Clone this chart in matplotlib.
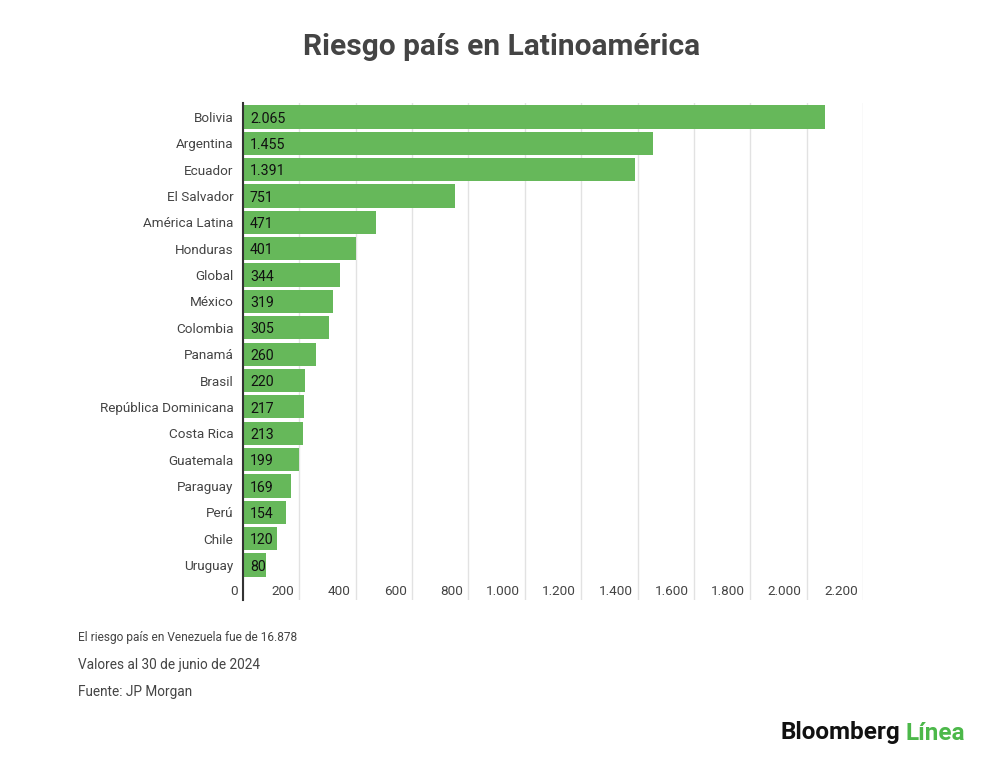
import matplotlib
matplotlib.use("Agg")
import matplotlib.pyplot as plt
import matplotlib.transforms as mtransforms
from matplotlib.ticker import FuncFormatter

plt.rcParams['font.family'] = ['Roboto', 'DejaVu Sans']

paises = ['Bolivia', 'Argentina', 'Ecuador', 'El Salvador', 'América Latina',
          'Honduras', 'Global', 'México', 'Colombia', 'Panamá', 'Brasil',
          'República Dominicana', 'Costa Rica', 'Guatemala', 'Paraguay',
          'Perú', 'Chile', 'Uruguay']
riesgo = [2065, 1455, 1391, 751, 471, 401, 344, 319, 305, 260, 220,
          217, 213, 199, 169, 154, 120, 80]
xticks = [0, 200, 400, 600, 800, 1000, 1200, 1400, 1600, 1800, 2000, 2200]

verde = '#66b85a'
gris = '#444444'


def miles(v):
    # formato con punto como separador de miles
    return '{:,.0f}'.format(v).replace(',', '.')


fig = plt.figure(figsize=(10, 7.63), dpi=100)
ax = fig.add_axes([0.243, 0.2136, 0.62, 0.6514])

pos = list(range(len(paises)))
ax.barh(pos, riesgo, height=0.88, color=verde, zorder=2)

for p, v in zip(pos, riesgo):
    ax.annotate(miles(v), (0, p), xytext=(5, -1.2), textcoords='offset points',
                va='center', ha='left', fontsize=10.2,
                color='#111111', zorder=3)

ax.set_xlim(0, 2200)
ax.set_ylim(18.33, -0.53)
ax.set_yticks(pos)
ax.set_yticklabels(paises, fontsize=9.7, color=gris)
ax.tick_params(axis='y', length=0, pad=7)

ax.set_xticks(xticks)
ax.xaxis.set_major_formatter(FuncFormatter(lambda v, _: miles(v)))
ax.tick_params(axis='x', length=0, pad=-12, labelsize=9.7, labelcolor=gris)
off = mtransforms.ScaledTranslation(-5 / 100, -2 / 100, fig.dpi_scale_trans)
for lbl in ax.get_xticklabels():
    lbl.set_ha('right')
    lbl.set_transform(lbl.get_transform() + off)

ax.grid(axis='x', color='#e2e2e2', linewidth=1, zorder=0)
ax.set_axisbelow(True)
for s in ['top', 'right', 'bottom']:
    ax.spines[s].set_visible(False)
ax.spines['left'].set_color('#333333')
ax.spines['left'].set_linewidth(1.5)
ax.spines['left'].set_zorder(4)

fig.text(0.502, 1 - 47 / 763, 'Riesgo país en Latinoamérica', ha='center', va='center',
         fontsize=21.5, fontweight='bold', color=gris)

fig.text(0.078, 1 - 637 / 763, 'El riesgo país en Venezuela fue de 16.878',
         ha='left', va='center', fontsize=8.6, color=gris)
fig.text(0.078, 1 - 665 / 763, 'Valores al 30 de junio de 2024',
         ha='left', va='center', fontsize=9.8, color=gris)
fig.text(0.078, 1 - 692 / 763, 'Fuente: JP Morgan',
         ha='left', va='center', fontsize=9.8, color=gris)

t1 = fig.text(0.780, 1 - 733 / 763, 'Bloomberg', ha='left', va='center',
              fontsize=17.5, fontweight='bold', color='#111111')
fig.canvas.draw()
bb = t1.get_window_extent()
fig.text(bb.x1 / fig.bbox.width + 0.006, 1 - 733 / 763, 'Línea', ha='left', va='center',
         fontsize=17.5, fontweight='bold', color='#4cb84a')

fig.savefig('out.png', dpi=100, facecolor='white')
